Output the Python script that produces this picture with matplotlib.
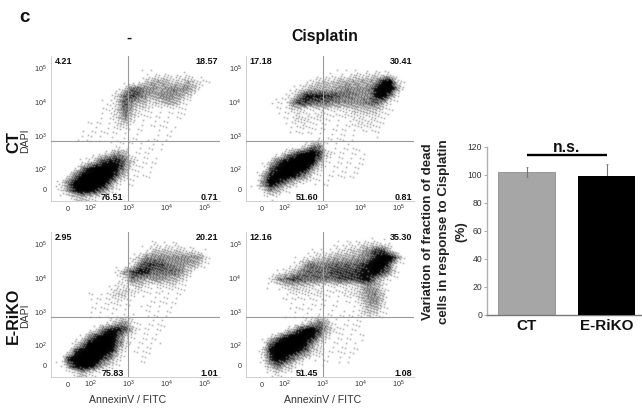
import numpy as np
import matplotlib
matplotlib.use("Agg")
import matplotlib.pyplot as plt

plt.rcParams['font.family'] = ['Liberation Sans', 'DejaVu Sans']
plt.rcParams['mathtext.fontset'] = 'custom'
plt.rcParams['mathtext.rm'] = 'Liberation Sans'

W, H = 642, 412

# Event density (0 = empty, 9 = saturated), top row first
ct_control = [
"000000000000000000000000",
"000000000000000000000000",
"000000000000011111110000",
"000000000000134443343210",
"000000000136655455553100",
"000000001367654555431000",
"000000011375432344210000",
"000000011364221111100000",
"000000111353111111100000",
"000001111231111110000000",
"000011111111101111000000",
"000111111111101111000000",
"000000000111111100000000",
"000000124541111000000000",
"000012578863111100000000",
"000158999852111000000000",
"002699999631110000000000",
"026999996211000000000000",
"025899863100000000000000",
"001343210000000000000000",
]
ct_cisplatin = [
"000000000000000000000000",
"000000000000000000000000",
"000000000001111222222000",
"000000001233344444589210",
"000000123444455555899510",
"000001258887766555896100",
"000121577666555556641000",
"000011221122222333321000",
"000001132221111222210000",
"000000122111111222210000",
"000000111111111111110000",
"000000000111111000000000",
"000000013661111100000000",
"000013689973111110000000",
"000268999951111111000000",
"001689999521111110000000",
"014899975211111100000000",
"016986421111000000000000",
"003642100000000000000000",
"000110000000000000000000",
]
eriko_control = [
"000000000000000000000000",
"000000000000001111100000",
"000000000000013333322100",
"000000000001355555555410",
"000000000002577765544200",
"000000000257886666531000",
"000000000126545544310000",
"000000001222321222100000",
"000001112332111111100000",
"000000112211011111100000",
"000001111111011111000000",
"000001111111001110000000",
"000000012452111100000000",
"000001368874111100000000",
"000026899731111000000000",
"000369999631111100000000",
"002799998411111000000000",
"018999975210110000000000",
"015899742100000000000000",
"000242100000000000000000",
]
eriko_cisplatin = [
"000000000000000000000000",
"000000000000011122211000",
"000000000111223345773000",
"000000011233444456899610",
"000000125656666678996100",
"000012356666777788975100",
"000256776666677788531000",
"000113333221222245420000",
"000000222221112245530000",
"000001111111111135530000",
"000000111111101124420000",
"000001111111111123210000",
"000000012464111110000000",
"000001479974211110000000",
"000258999852111110000000",
"001799998521111100000000",
"003899986321111100000000",
"002798642111011000000000",
"001464310010010000000000",
"000121100000000000000000",
]

ct_control_pct = ["4.21", "18.57", "76.51", "0.71"]
ct_cisplatin_pct = ["17.18", "30.41", "51.60", "0.81"]
eriko_control_pct = ["2.95", "20.21", "75.83", "1.01"]
eriko_cisplatin_pct = ["12.16", "35.30", "51.45", "1.08"]

flow_ticks = [1.41, 2.0, 3.0, 4.0, 5.0]
flow_tick_labels = ["0", r"$\mathregular{10^2}$", r"$\mathregular{10^3}$",
                    r"$\mathregular{10^4}$", r"$\mathregular{10^5}$"]
gate_x = 3.0
gate_y = 2.84

bar_groups = ["CT", "E-RiKO"]
bar_values = [101.7, 99.0]
bar_errors = [3.5, 8.5]
bar_ticks = [0, 20, 40, 60, 80, 100, 120]

fig = plt.figure(figsize=(W / 100, H / 100), dpi=100, facecolor="white")
TXT = "#222222"


def box(l, t, r, b):
    return [l / W, 1 - b / H, (r - l) / W, (b - t) / H]


def ptext(x, y, s, **kw):
    kw.setdefault("ha", "center")
    kw.setdefault("va", "center")
    kw.setdefault("color", TXT)
    return fig.text(x / W, 1 - y / H, s, **kw)


def halftone(rows):
    """Render a density grid as a fixed (ordered) stipple screen at pixel scale."""
    grid = np.array([[int(c) for c in r] for r in rows], float)
    nr, nc = grid.shape
    ph, pw = 145, 169
    ys = (np.arange(ph) + 0.5) / ph * nr - 0.5
    xs = (np.arange(pw) + 0.5) / pw * nc - 0.5
    by_col = np.array([np.interp(ys, np.arange(nr), grid[:, c]) for c in range(nc)]).T
    dens = np.array([np.interp(xs, np.arange(nc), row) for row in by_col])
    cover = (dens / 9.0) ** 1.6
    jj, ii = np.meshgrid(np.arange(pw), np.arange(ph))
    # interleaved-gradient dither screen: a fixed ordered pattern, no data in it
    screen = (52.9829189 * ((0.06711056 * jj + 0.00583715 * ii) % 1.0)) % 1.0
    dots = (cover * 1.15 > screen).astype(float)
    # softening, like the scan of the printed figure
    kernel = np.array([0.2, 0.6, 0.2])
    soft = np.apply_along_axis(lambda v: np.convolve(v, kernel, mode="same"), 0, dots)
    soft = np.apply_along_axis(lambda v: np.convolve(v, kernel, mode="same"), 1, soft)
    return 1.0 - np.clip(0.75 * soft + 0.25 * cover, 0, 1)


def flow(l, t, rows, pct, xlabel):
    ax = fig.add_axes(box(l, t, l + 169, t + 145))
    xr, yr = (0.974, 5.42), (1.06, 5.365)
    ax.imshow(halftone(rows), extent=(xr[0], xr[1], yr[0], yr[1]), origin="upper", cmap="gray",
              vmin=0, vmax=1, aspect="auto", interpolation="bilinear", zorder=1)
    ax.set_xlim(xr)
    ax.set_ylim(yr)
    ax.axvline(gate_x, color="#9a9a9a", lw=0.8, zorder=3)
    ax.axhline(gate_y, color="#9a9a9a", lw=0.8, zorder=3)
    for s in ("top", "right"):
        ax.spines[s].set_visible(False)
    for s in ("left", "bottom"):
        ax.spines[s].set_color("#cfcfcf")
        ax.spines[s].set_linewidth(0.7)
    ax.set_xticks(flow_ticks, flow_tick_labels)
    ax.set_yticks(flow_ticks, flow_tick_labels)
    ax.tick_params(length=0, labelsize=5.2, labelcolor="#333333", pad=3)
    ax.tick_params(axis="x", pad=7.5)
    for lab in ax.get_xticklabels():
        lab.set_verticalalignment("baseline")
    bold = dict(fontsize=6.5, fontweight="bold", color="#111111")
    ptext(l + 4, t + 5, pct[0], ha="left", **bold)
    ptext(l + 167, t + 5, pct[1], ha="right", **bold)
    ptext(l + 72.5, t + 141, pct[2], ha="right", **bold)
    ptext(l + 167, t + 141, pct[3], ha="right", **bold)
    if xlabel:
        ptext(l + 77, t + 168, "AnnexinV / FITC", fontsize=7.6, color="#333333")
    return ax


flow(51, 56, ct_control, ct_control_pct, False)
flow(245.5, 56, ct_cisplatin, ct_cisplatin_pct, False)
flow(51, 232, eriko_control, eriko_control_pct, True)
flow(245.5, 232, eriko_cisplatin, eriko_cisplatin_pct, True)

ptext(24, 18, "c", fontsize=13.5, fontweight="bold", color="#111111")
ptext(129, 38, "-", fontsize=11, fontweight="bold", color="#111111")
ptext(325, 37, "Cisplatin", fontsize=11.4, fontweight="bold", color="#111111")
ptext(14, 142, "CT", fontsize=12, fontweight="bold", rotation=90, color="#111111")
ptext(13, 316, "E-RiKO", fontsize=11.5, fontweight="bold", rotation=90, color="#111111")
ptext(25.5, 141, "DAPI", fontsize=7.6, rotation=90, color="#333333")
ptext(25.5, 316, "DAPI", fontsize=7.6, rotation=90, color="#333333")

# Bar panel
bx = fig.add_axes(box(487, 146.7, 641, 315))
xpos = np.arange(len(bar_groups))
bx.bar(xpos[0], bar_values[0], width=0.71, color="#a6a6a6", edgecolor="#8e8e8e", linewidth=0.6, zorder=2)
bx.errorbar(xpos, bar_values, yerr=bar_errors, fmt="none", ecolor="#777777", elinewidth=0.8, capsize=0.8,
            capthick=0.5, zorder=3)
bx.bar(xpos[1], bar_values[1], width=0.71, color="#000000", zorder=4)
bx.set_xlim(-0.4975, 1.432)
bx.set_ylim(0, 120)
bx.set_yticks(bar_ticks)
bx.set_xticks(xpos, bar_groups)
for s in ("top", "right"):
    bx.spines[s].set_visible(False)
bx.spines["left"].set_color("#b0b0b0")
bx.spines["bottom"].set_color("#777777")
bx.spines["left"].set_linewidth(1.0)
bx.spines["bottom"].set_linewidth(1.0)
bx.tick_params(axis="y", length=2, width=0.6, color="#999999", labelsize=6.2, labelcolor="#333333", pad=1.5)
bx.tick_params(axis="x", length=0, labelsize=11, pad=3, labelcolor="#111111")
for lab in bx.get_xticklabels():
    lab.set_fontweight("bold")

bx.plot(xpos, [bar_values[0] + 12.6] * 2, color="#000000", lw=1.7, solid_capstyle="butt", clip_on=False, zorder=5)
ptext(566.7, 148, "n.s.", fontsize=11.3, fontweight="bold", color="#111111")

yl = dict(fontsize=9.6, fontweight="bold", rotation=90, color="#222222")
ptext(428, 232, "Variation of fraction of dead", **yl)
ptext(444, 232, "cells in response to Cisplatin", **yl)
ptext(461, 232, "(%)", **yl)

fig.savefig("out.png", dpi=100, facecolor="white")
